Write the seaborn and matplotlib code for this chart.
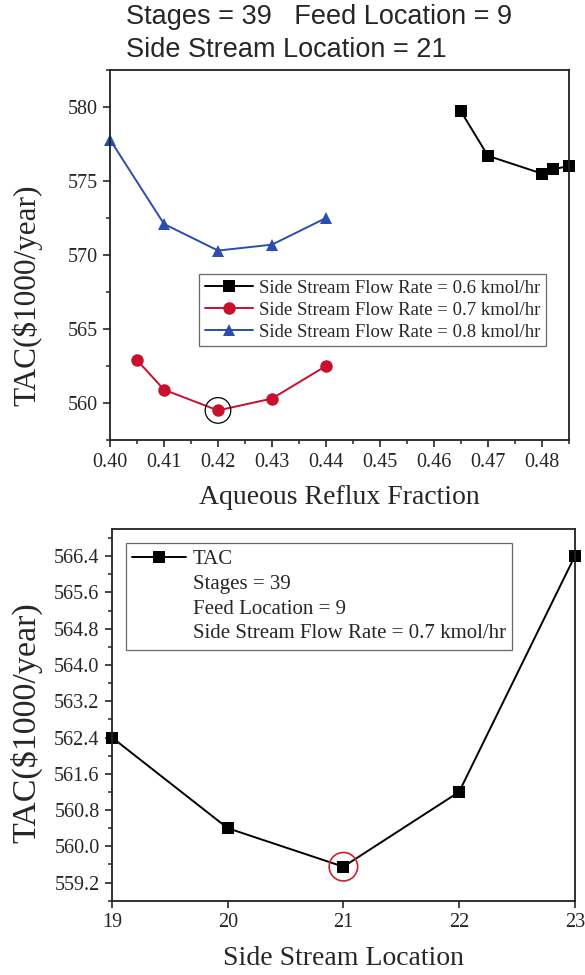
import pandas as pd
import matplotlib.pyplot as plt
import seaborn as sns
from matplotlib.lines import Line2D
from matplotlib.ticker import MultipleLocator

# data
frac_06 = [0.465, 0.47, 0.48, 0.482, 0.485]
tac_06 = [579.7, 576.7, 575.5, 575.8, 576.0]
frac_07 = [0.405, 0.41, 0.42, 0.43, 0.44]
tac_07 = [562.9, 560.9, 559.5, 560.3, 562.5]
frac_08 = [0.40, 0.41, 0.42, 0.43, 0.44]
tac_08 = [577.8, 572.1, 570.3, 570.7, 572.5]

side_loc = [19, 20, 21, 22, 23]
tac_loc = [562.4, 560.4, 559.55, 561.2, 566.4]

labels_top = ['Side Stream Flow Rate = 0.6 kmol/hr',
              'Side Stream Flow Rate = 0.7 kmol/hr',
              'Side Stream Flow Rate = 0.8 kmol/hr']

sns.set_style('ticks')
plt.rcParams['font.family'] = ['Liberation Serif', 'DejaVu Serif']
plt.rcParams['mathtext.default'] = 'regular'

fig = plt.figure(figsize=(5.85, 9.75), dpi=100)
ax1 = fig.add_axes([0.188, 0.5487, 0.7846, 0.3795])
ax2 = fig.add_axes([0.1915, 0.0762, 0.791, 0.3812])

# top panel
df_top = pd.DataFrame({
    'frac': frac_06 + frac_07 + frac_08,
    'tac': tac_06 + tac_07 + tac_08,
    'series': [labels_top[0]] * len(frac_06) + [labels_top[1]] * len(frac_07) + [labels_top[2]] * len(frac_08),
})
palette = {labels_top[0]: 'black', labels_top[1]: '#C8102E', labels_top[2]: '#2B4DAE'}
markers = {labels_top[0]: 's', labels_top[1]: 'o', labels_top[2]: '^'}
sns.lineplot(data=df_top, x='frac', y='tac', hue='series', style='series',
             palette=palette, markers=markers, dashes=False, markersize=9,
             markeredgewidth=0, linewidth=1.4, ax=ax1, clip_on=False)

# circle round the optimum
ax1.scatter([frac_07[2]], [tac_07[2]], s=340, facecolors='none', edgecolors='black', linewidths=0.9, zorder=5)

ax1.set_xlim(0.40, 0.485)
ax1.set_ylim(557.5, 582.5)
ax1.xaxis.set_major_locator(MultipleLocator(0.01))
ax1.xaxis.set_minor_locator(MultipleLocator(0.005))
ax1.yaxis.set_major_locator(MultipleLocator(5))
ax1.yaxis.set_minor_locator(MultipleLocator(2.5))
ax1.xaxis.set_major_formatter(plt.FormatStrFormatter('%.2f'))
ax1.set_xlabel('Aqueous Reflux Fraction', fontsize=20, labelpad=10)
ax1.set_ylabel('TAC($1000/year)', fontsize=22.5)
ax1.yaxis.set_label_coords(-0.148, 0.39)

leg1 = ax1.legend(loc='upper right', bbox_to_anchor=(0.95, 0.448), borderaxespad=0,
                  fontsize=13.5, frameon=True, fancybox=False, edgecolor='#444444',
                  handlelength=2.6, handletextpad=0.3, borderpad=0.3, labelspacing=0.25)
leg1.get_frame().set_linewidth(0.9)

fig.text(0.215, 0.9826, 'Stages = 39   Feed Location = 9', fontsize=19.5,
         family='Liberation Sans', ha='left', va='center')
fig.text(0.215, 0.9487, 'Side Stream Location = 21', fontsize=19.5,
         family='Liberation Sans', ha='left', va='center')

# bottom panel
df_bot = pd.DataFrame({'loc': side_loc, 'tac': tac_loc})
sns.lineplot(data=df_bot, x='loc', y='tac', color='black', marker='s', markersize=9,
             markeredgewidth=0, linewidth=1.4, ax=ax2, clip_on=False, label='TAC')
ax2.scatter([side_loc[2]], [tac_loc[2]], s=420, facecolors='none', edgecolors='#D0202E', linewidths=1.2, zorder=5)

ax2.set_xlim(19, 23)
ax2.set_ylim(558.8, 567.0)
ax2.xaxis.set_major_locator(MultipleLocator(1))
ax2.yaxis.set_major_locator(MultipleLocator(0.8))
ax2.yaxis.set_minor_locator(MultipleLocator(0.4))
ax2.yaxis.set_major_formatter(plt.FormatStrFormatter('%.1f'))
ax2.set_xlabel('Side Stream Location', fontsize=20, labelpad=10)
ax2.set_ylabel('TAC($1000/year)', fontsize=24.5)
ax2.yaxis.set_label_coords(-0.15, 0.48)

h, l = ax2.get_legend_handles_labels()
blank = Line2D([], [], color='none')
leg2 = ax2.legend([h[0], blank, blank, blank],
                  ['TAC', 'Stages = 39', 'Feed Location = 9', 'Side Stream Flow Rate = 0.7 kmol/hr'],
                  loc='upper left', bbox_to_anchor=(0.03, 0.962), borderaxespad=0,
                  fontsize=15, frameon=True, fancybox=False, edgecolor='#444444',
                  handlelength=2.6, handletextpad=0.3, borderpad=0.3, labelspacing=0.25)
leg2.get_frame().set_linewidth(0.9)

for ax in (ax1, ax2):
    for side in ['top', 'right', 'left', 'bottom']:
        ax.spines[side].set_visible(True)
        ax.spines[side].set_linewidth(1.3)
        ax.spines[side].set_color('#222222')
    ax.tick_params(which='major', direction='out', length=5, width=1.2, labelsize=14.5, pad=4)
    ax.tick_params(which='minor', direction='out', length=3, width=1.1)
    ax.tick_params(top=False, right=False, which='both')

ax2.tick_params(axis='x', which='minor', bottom=False)

fig.savefig('out.png', dpi=100)
